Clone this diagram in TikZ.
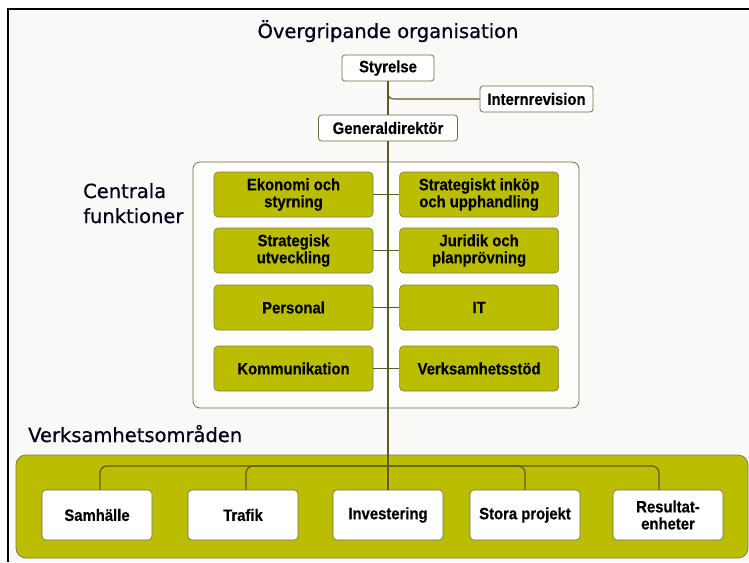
\documentclass[tikz,border=0pt]{standalone}
\usepackage{fontspec}
\setmainfont{Liberation Sans}
\newfontfamily\headfont{DejaVu Sans}[FakeBold=0.6]
\newfontfamily\boxfont{Liberation Sans Bold}[FakeStretch=0.9,FakeBold=0.4]
\usetikzlibrary{positioning}
\definecolor{tvgreen}{RGB}{187,190,0}
\definecolor{tvline}{RGB}{92,90,38}
\definecolor{tvframe}{RGB}{110,110,70}
\definecolor{tvpaper}{RGB}{250,249,247}

\begin{document}
\begin{tikzpicture}[x=1pt,y=-1pt,
  topbox/.style={rectangle,draw=tvframe,fill=white,line width=0.8pt,minimum height=26pt,
                 rounded corners=3pt,inner sep=0pt,font=\boxfont\fontsize{16.5}{17}\selectfont},
  func/.style={rectangle,draw=tvline!80,fill=tvgreen,line width=0.6pt,minimum width=159pt,
               minimum height=45pt,rounded corners=4pt,align=center,inner sep=0pt,
               font=\boxfont\fontsize{16.5}{17}\selectfont},
  area/.style={rectangle,draw=tvframe,fill=white,line width=0.6pt,minimum width=110pt,
               minimum height=50pt,rounded corners=4pt,align=center,inner sep=0pt,
               font=\boxfont\fontsize{16.5}{17}\selectfont},
  head/.style={font=\headfont\fontsize{19.5}{25}\selectfont,text=black!90!blue,inner sep=0pt},
  conn/.style={draw=tvline,line width=1.2pt}]
\useasboundingbox (0,0) rectangle (749,562);
\fill[tvpaper] (8,9) rectangle (749,562);
\draw[line width=2pt] (749,9) -- (8,9) -- (8,562);
\draw[tvframe,fill=white!60!tvpaper,rounded corners=7pt,line width=0.8pt] (193,162) rectangle (579,408);
\draw[tvline!80,fill=tvgreen,rounded corners=10pt,line width=0.8pt] (16,455) rectangle (748,558);

\node[head,anchor=base] (title) at (388,38) {Övergripande organisation};
\node[head,anchor=north west,align=left] (central) at (83,183) {Centrala\\funktioner};
\node[head,anchor=base west] (areas) at (28,442) {Verksamhetsområden};

\node[topbox,minimum width=92pt] (styrelse) at (388,68) {Styrelse};
\node[topbox,minimum width=113pt] (internrev) at (536.5,99) {Internrevision};
\node[topbox,minimum width=139pt] (gd) at (388,128) {Generaldirektör};

\node[func] (ekonomi) at (293.5,194.5) {Ekonomi och\\styrning};
\node[func,right=26pt of ekonomi] (inkop) {Strategiskt inköp\\och upphandling};
\node[func] (utveckling) at (293.5,250.5) {Strategisk\\utveckling};
\node[func,right=26pt of utveckling] (juridik) {Juridik och\\planprövning};
\node[func] (personal) at (293.5,307.5) {Personal};
\node[func,right=26pt of personal] (it) {IT};
\node[func] (komm) at (293.5,368.5) {Kommunikation};
\node[func,right=26pt of komm] (stod) {Verksamhetsstöd};

\node[area] (samhalle) at (97,515) {Samhälle};
\node[area] (trafik) at (243,515) {Trafik};
\node[area] (investering) at (388,515) {Investering};
\node[area] (stora) at (525,515) {Stora projekt};
\node[area] (resultat) at (668,515) {Resultat-\\enheter};

\draw[conn] (styrelse) -- (gd);
\coordinate (revjoint) at (388,88);
\draw[conn] (revjoint) .. controls (388,99) .. (400,99) -- (internrev.west);
\draw[conn] (gd) -- (investering);
\draw[conn] (ekonomi) -- (inkop);
\draw[conn] (utveckling) -- (juridik);
\draw[conn] (personal) -- (it);
\draw[conn] (komm) -- (stod);

\coordinate (bus) at (388,466);
\draw[conn,rounded corners=7pt] ([xshift=3pt]samhalle.north) |- (bus) -| ([xshift=-9pt]resultat.north);
\draw[conn,rounded corners=7pt] ([xshift=3pt]trafik.north) |- (bus) -| (stora.north);
\end{tikzpicture}
\end{document}
